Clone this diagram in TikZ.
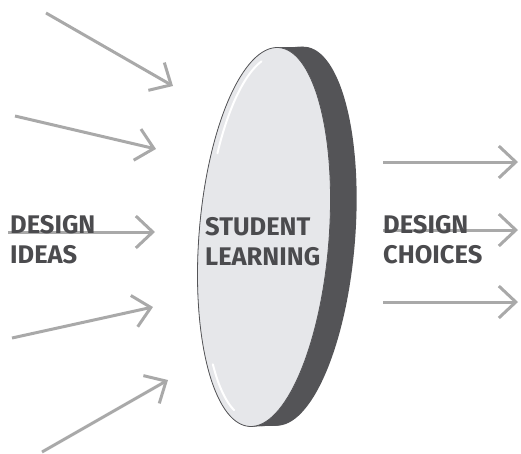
\documentclass[tikz,border=0pt]{standalone}
\usepackage{fontspec}
\setmainfont{Fira Sans}
\usetikzlibrary{arrows.meta}
\definecolor{arrowgray}{HTML}{A9A9A9}
\definecolor{textgray}{HTML}{4B4B4E}
\definecolor{lensface}{HTML}{E6E7EA}
\definecolor{lensside}{HTML}{545457}
\tikzset{
  flow/.style={draw=arrowgray,line width=3pt,-{Straight Barb[length=17pt,width=32pt]}},
  words/.style={inner sep=0pt,anchor=north west,align=left,text=textgray,
    font=\fontsize{25.5}{30}\selectfont\bfseries}
}

\begin{document}
\begin{tikzpicture}[x=1pt,y=-1pt]
\useasboundingbox (0,0) rectangle (521,453);

% the lens: a dark rim swept behind the light face
\begin{scope}[shift={(264,237)},rotate=-4.5]
\foreach \s in {0,2,...,26}
  \fill[lensside] (\s,-\s/9) ellipse[x radius=65,y radius=190];
\draw[lensside,line width=0.8pt,fill=lensface] (0,0) ellipse[x radius=65,y radius=190];
\draw[white,line width=2pt,line cap=round] plot[domain=206:254,samples=25] ({59*cos(\x)},{182*sin(\x)});
\draw[white,line width=2pt,line cap=round] plot[domain=106:134,samples=25] ({59*cos(\x)},{182*sin(\x)});
\end{scope}

% ideas coming in, choices going out
\foreach \n/\xa/\ya/\xb/\yb in {in1/46/13/173/86, in2/15/116/156/149, in3/8/232/155/232,
    in4/12/338/153/307, in5/42/452/168/380,
    out1/383/162/518/162, out2/383/230/518/230, out3/383/302/518/302} {
  \coordinate (\n-from) at (\xa,\ya);
  \coordinate (\n-to) at (\xb,\yb);
  \draw[flow] (\n-from) -- (\n-to);
}

\node[words] (ideas) at (10,215) {DESIGN\\IDEAS};
\node[words] (learning) at (205,217) {STUDENT\\LEARNING};
\node[words] (choices) at (383,215) {DESIGN\\CHOICES};
\end{tikzpicture}
\end{document}
